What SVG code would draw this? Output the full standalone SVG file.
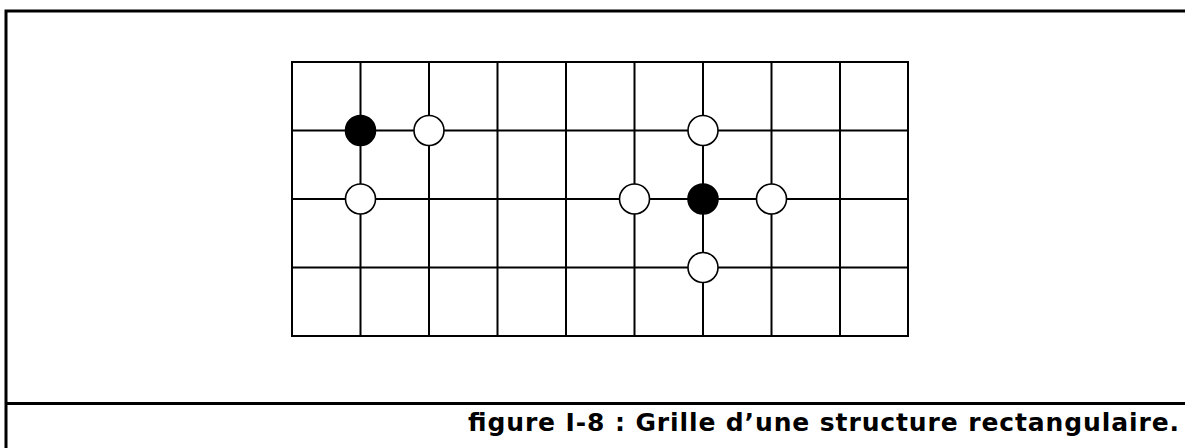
<svg xmlns="http://www.w3.org/2000/svg" width="1185" height="448" viewBox="0 0 1185 448">
<style>
.frame{stroke:#000;stroke-width:3;fill:none}
.grid{stroke:#000;stroke-width:2;fill:none}
.w{fill:#fff;stroke:#000;stroke-width:1.6}
.b{fill:#000;stroke:#000;stroke-width:1.6}
.cap{font-family:"DejaVu Sans",Verdana,sans-serif;font-weight:bold;font-size:25px;fill:#000}
</style>
<rect width="1185" height="448" fill="#fff"/>
<g id="frame" class="frame">
<path d="M6,448 V11 H1185"/>
<path d="M6,403.5 H1185"/>
</g>
<g id="grid" class="grid">
<rect x="292" y="62" width="616" height="274"/>
<path d="M360.5,62V336M429,62V336M497.5,62V336M566,62V336M634.5,62V336M703,62V336M771.5,62V336M840,62V336"/>
<path d="M292,130.5H908M292,199H908M292,267.5H908"/>
</g>
<g id="node-b1"><circle class="b" cx="360.5" cy="130.5" r="15"/></g>
<g id="node-w1"><circle class="w" cx="429" cy="130.5" r="15"/></g>
<g id="node-w2"><circle class="w" cx="360.5" cy="199" r="15"/></g>
<g id="node-w3"><circle class="w" cx="703" cy="130.5" r="15"/></g>
<g id="node-w4"><circle class="w" cx="634.5" cy="199" r="15"/></g>
<g id="node-b2"><circle class="b" cx="703" cy="199" r="15"/></g>
<g id="node-w5"><circle class="w" cx="771.5" cy="199" r="15"/></g>
<g id="node-w6"><circle class="w" cx="703" cy="267.5" r="15"/></g>
<text class="cap" x="468" y="430.5" textLength="711" lengthAdjust="spacing">figure I-8 : Grille d’une structure rectangulaire.</text>
</svg>
